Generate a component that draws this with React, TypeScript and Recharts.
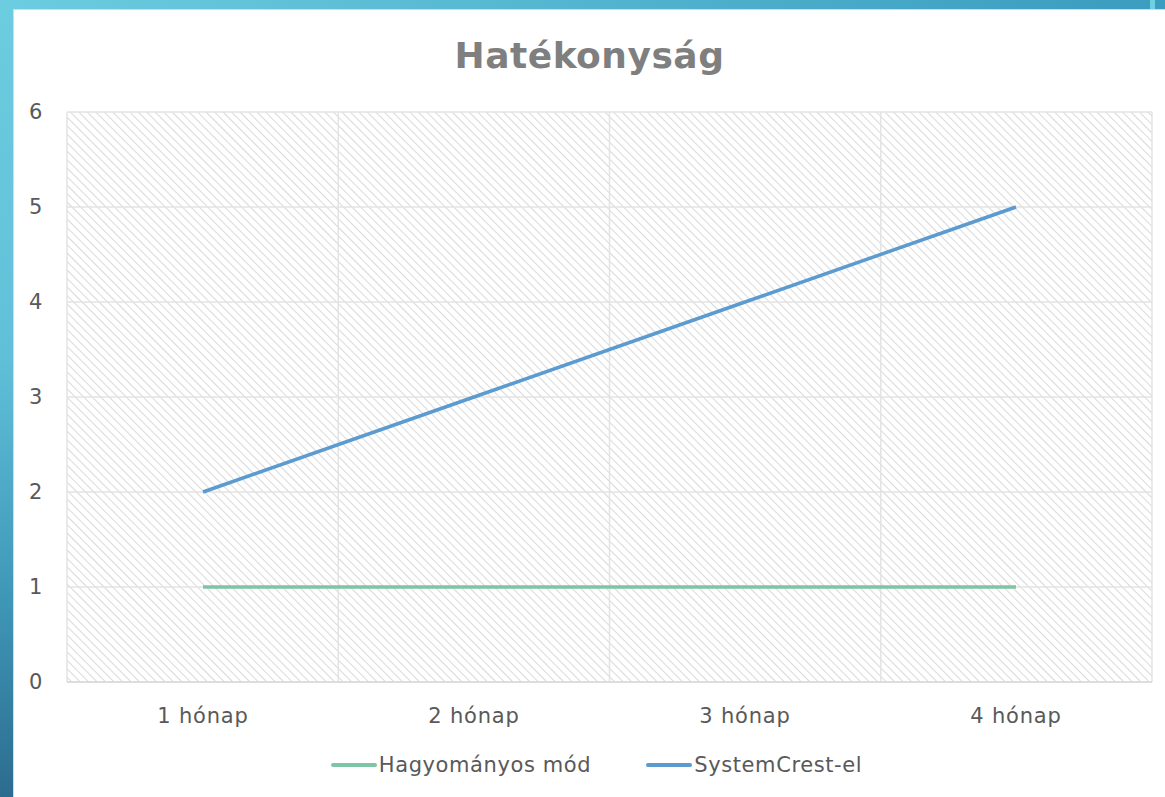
import React from 'react';
import { LineChart, Line, XAxis, YAxis, CartesianGrid, Legend } from 'recharts';

const categories = ['1 hónap', '2 hónap', '3 hónap', '4 hónap'];
const hagyomanyos = [1, 1, 1, 1];
const systemCrest = [2, 3, 4, 5];
const yTicks = [0, 1, 2, 3, 4, 5, 6];

const data = categories.map((c, i) => ({ name: c, h: hagyomanyos[i], s: systemCrest[i] }));

const FONT = "'DejaVu Sans', 'Noto Sans', sans-serif";

const renderLegend = (props: any) => {
  const { payload } = props;
  return (
    <div style={{ display: 'flex', justifyContent: 'center', alignItems: 'center', fontFamily: FONT, fontSize: 21, letterSpacing: 0.6, color: '#595959', paddingTop: 16, paddingLeft: 14 }}>
      {payload.map((p: any, i: number) => (
        <div key={i} style={{ display: 'flex', alignItems: 'center', marginRight: i === 0 ? 55 : 0 }}>
          <div style={{ width: 46, height: 4, background: p.color, borderRadius: 2, marginRight: 2 }} />
          <span>{p.value}</span>
        </div>
      ))}
    </div>
  );
};

export default function App() {
  return (
    <div style={{ position: 'absolute', left: 0, top: 0, width: 1165, height: 797, overflow: 'hidden', background: '#fff' }}>
      <div style={{ position: 'absolute', left: 0, top: 0, width: 1165, height: 9, background: 'linear-gradient(to right, #6ccde0 0px, #3b9dbf 1150px, #6fd0e2 1150px, #6fd0e2 1155px, #3b9dbf 1155px)' }} />
      <div style={{ position: 'absolute', left: 0, top: 0, width: 13, height: 797, background: 'linear-gradient(to bottom, #6ccde0 0%, #5fc0d8 45%, #3f97b8 75%, #2c6c8e 100%)' }} />
      <div style={{ position: 'absolute', left: 13, top: 9, width: 1152, height: 788, borderLeft: '1px solid #d9d9d9', borderTop: '1px solid #d9d9d9', boxSizing: 'border-box' }} />
      <div style={{ position: 'absolute', left: 14, top: 34, width: 1151, textAlign: 'center', fontFamily: FONT, fontWeight: 700, fontSize: 36, lineHeight: '44px', letterSpacing: 0.5, color: '#7f7f7f' }}>
        Hatékonyság
      </div>
      <div style={{ position: 'absolute', left: 0, top: 0 }}>
        <LineChart width={1165} height={797} data={data} margin={{ top: 112, right: 13, bottom: 20, left: 27 }}>
          <defs>
            <pattern id="hatch" patternUnits="userSpaceOnUse" width="6" height="6" patternTransform="rotate(-45)">
              <rect width="6" height="6" fill="#ffffff" />
              <line x1="0" y1="0" x2="0" y2="6" stroke="#d9d9d9" strokeWidth="2" />
            </pattern>
          </defs>
          <CartesianGrid fill="url(#hatch)" fillOpacity={1} stroke="#e3e3e3" strokeWidth={1.5} vertical horizontal verticalCoordinatesGenerator={(p: any) => {
            const { offset } = p;
            const w = offset.width / categories.length;
            return [0, 1, 2, 3, 4].map((i) => offset.left + i * w);
          }} />
          <XAxis dataKey="name" axisLine={{ stroke: '#d9d9d9', strokeWidth: 1.5 }} tickLine={false} tick={{ fill: '#595959', fontSize: 21, fontFamily: FONT, letterSpacing: 0.8 }} tickMargin={20} height={55} padding={{ left: 136, right: 136 }} />
          <YAxis domain={[0, 6]} ticks={yTicks} axisLine={false} tickLine={false} tick={{ fill: '#595959', fontSize: 21, fontFamily: FONT, textAnchor: 'start', dx: -30 }} width={40} interval={0} />
          <Legend verticalAlign="bottom" height={40} content={renderLegend} />
          <Line type="linear" dataKey="h" name="Hagyományos mód" stroke="#7fc5a5" strokeWidth={3.5} dot={false} isAnimationActive={false} />
          <Line type="linear" dataKey="s" name="SystemCrest-el" stroke="#5b9bcf" strokeWidth={3.5} dot={false} isAnimationActive={false} />
        </LineChart>
      </div>
    </div>
  );
}
